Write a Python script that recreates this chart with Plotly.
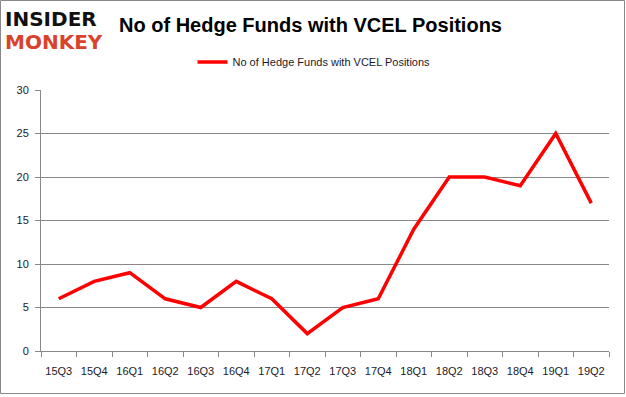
import plotly.graph_objects as go

quarters = ["15Q3", "15Q4", "16Q1", "16Q2", "16Q3", "16Q4", "17Q1", "17Q2",
            "17Q3", "17Q4", "18Q1", "18Q2", "18Q3", "18Q4", "19Q1", "19Q2"]
funds = [6, 8, 9, 6, 5, 8, 6, 2, 5, 6, 14, 20, 20, 19, 25, 17]
series_name = "No of Hedge Funds with VCEL Positions"

W, H = 626, 397
L, R, T, B = 41, 609, 90, 351
pw, ph = R - L, B - T

def px(x):
    return (x - L) / pw

def py(y):
    return (B - y) / ph

fig = go.Figure()
fig.add_trace(go.Scatter(x=quarters, y=funds, mode="lines", name=series_name,
                         line=dict(color="#ff0000", width=3.5)))

fig.update_layout(
    width=W, height=H,
    margin=dict(l=L, r=W - R, t=T, b=H - B, autoexpand=False),
    paper_bgcolor="white", plot_bgcolor="white",
    font=dict(family="Liberation Sans, Arial, sans-serif", size=11, color="#1a1a2a"),
    showlegend=True,
    legend=dict(orientation="h", x=px(314), xanchor="center", y=py(62), yanchor="middle",
                font=dict(size=11, color="#1a1a2a"), bgcolor="rgba(0,0,0,0)"),
    xaxis=dict(type="category", range=[-0.5, len(quarters) - 0.5],
               showline=True, linecolor="#888888", linewidth=1, tickangle=0,
               ticks="outside", ticklen=5, tickcolor="#888888", tickson="boundaries",
               ticklabelstandoff=10,
               showgrid=False, tickfont=dict(size=11, color="#1a1a2a"), fixedrange=True),
    yaxis=dict(range=[0, 30], dtick=5, showline=True, linecolor="#888888", linewidth=1,
               ticks="outside", ticklen=5, tickcolor="#888888", showgrid=True,
               gridcolor="#888888", gridwidth=1, zeroline=False, ticklabelstandoff=4,
               tickfont=dict(size=11, color="#1a1a2a"), fixedrange=True),
)

# Title
fig.add_annotation(text="<b>No of Hedge Funds with VCEL Positions</b>", xref="paper", yref="paper",
                   x=px(117), y=py(25), xanchor="left", yanchor="middle", showarrow=False,
                   font=dict(family="Liberation Sans, Arial, sans-serif", size=20, color="#000000"))
# Logo
fig.add_annotation(text="<b>INSIDER</b>", xref="paper", yref="paper",
                   x=px(3), y=py(19), xanchor="left", yanchor="middle", showarrow=False,
                   font=dict(family="DejaVu Sans, sans-serif", size=20, color="#111111"))
fig.add_annotation(text="<b>MONKEY</b>", xref="paper", yref="paper",
                   x=px(3), y=py(42), xanchor="left", yanchor="middle", showarrow=False,
                   font=dict(family="DejaVu Sans, sans-serif", size=20, color="#d8432c"))

# Outer border
fig.add_shape(type="rect", xref="paper", yref="paper",
              x0=px(0.5), x1=px(W - 1.5), y0=py(H - 3.5), y1=py(0.5),
              line=dict(color="#888888", width=1), fillcolor="rgba(0,0,0,0)", layer="below")

fig.write_html("out.html", config={"displayModeBar": False},
               post_script="document.body.style.margin='0';document.body.style.padding='0';")
